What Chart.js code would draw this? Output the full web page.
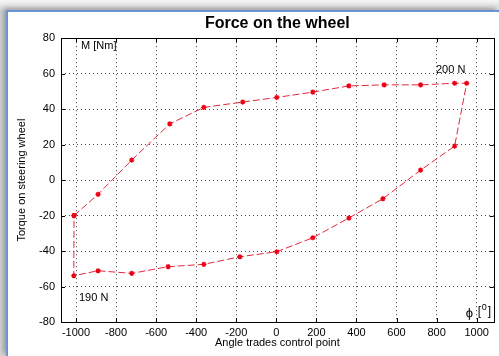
<!DOCTYPE html>
<html>
<head>
<meta charset="utf-8">
<script src="https://cdn.jsdelivr.net/npm/chart.js@4/dist/chart.umd.min.js"></script>
<style>
  html, body { margin: 0; padding: 0; background: #ffffff; }
  body { position: relative; width: 499px; height: 356px; overflow: hidden;
         background: linear-gradient(to bottom, #f6f6f6 0px, #d6d6d6 11px, #d6d6d6 100%); }
  #frame { position: absolute; left: 6px; top: 10px; width: 493px; height: 346px;
           border-left: 2px solid #6d93d2; border-top: 2px solid #6d93d2;
           background: #ffffff; box-sizing: border-box;
           box-shadow: -3px -2px 5px rgba(0,0,0,0.28); }
  #chart { position: absolute; left: 0; top: 0; }
</style>
</head>
<body>
<div id="frame"></div>
<canvas id="chart" width="499" height="356"></canvas>
<script>
// ── Datos ──
// rama de carga: de -1000 hacia +950
const anguloIda  = [-1010, -890, -722, -532, -362, -168, 2, 182, 362, 538, 720, 890, 950];
const parIda     = [-20, -8, 11.3, 31.7, 41, 44, 46.6, 49.6, 53.1, 53.7, 53.7, 54.6, 54.6];
// rama de vuelta: de +890 hacia -1000
const anguloVuelta = [890, 720, 532, 362, 182, 2, -182, -362, -540, -722, -890, -1011];
const parVuelta    = [19.2, 5.6, -10.5, -21.4, -32.5, -40.4, -43.2, -47.5, -48.8, -52.6, -51.1, -53.9];

const xTicks = [-1000, -800, -600, -400, -200, 0, 200, 400, 600, 800, 1000];
const yTicks = [-80, -60, -40, -20, 0, 20, 40, 60, 80];

const FUENTE = '"Liberation Sans", Arial, Helvetica, sans-serif';

// lazo cerrado: ida + vuelta + vuelta al primer punto
const puntos = [];
anguloIda.forEach((a, i) => puntos.push({ x: a, y: parIda[i] }));
anguloVuelta.forEach((a, i) => puntos.push({ x: a, y: parVuelta[i] }));
puntos.push({ x: anguloIda[0], y: parIda[0] });

// ── Caja, marcas interiores y textos (estilo MATLAB) ──
const cajaMatlab = {
  id: 'cajaMatlab',
  afterDraw(chart) {
    const { ctx, chartArea: a, scales } = chart;
    ctx.save();
    ctx.strokeStyle = '#000';
    ctx.lineWidth = 1;
    ctx.strokeRect(Math.round(a.left) + 0.5, Math.round(a.top) + 0.5,
                   Math.round(a.right - a.left), Math.round(a.bottom - a.top));
    const L = 4;
    ctx.beginPath();
    xTicks.forEach(v => {
      const px = Math.round(scales.x.getPixelForValue(v)) + 0.5;
      ctx.moveTo(px, a.bottom); ctx.lineTo(px, a.bottom - L);
      ctx.moveTo(px, a.top);    ctx.lineTo(px, a.top + L);
    });
    yTicks.forEach(v => {
      const py = Math.round(scales.y.getPixelForValue(v)) + 0.5;
      ctx.moveTo(a.left, py);  ctx.lineTo(a.left + L, py);
      ctx.moveTo(a.right, py); ctx.lineTo(a.right - L, py);
    });
    ctx.stroke();

    // anotaciones
    ctx.fillStyle = '#000';
    ctx.font = '11px ' + FUENTE;
    ctx.textBaseline = 'middle';
    ctx.textAlign = 'left';
    ctx.fillText('M [Nm]', a.left + 20, a.top + 8);
    ctx.fillText('200 N', a.left + 375, a.top + 32);
    ctx.fillText('190 N', a.left + 18, a.bottom - 24);
    // φ [º]
    ctx.font = '13px ' + FUENTE;
    ctx.fillText('\u03D5', a.right - 28, a.bottom - 9);
    ctx.font = '12px ' + FUENTE;
    ctx.fillText('[', a.right - 16, a.bottom - 10);
    ctx.font = '9px ' + FUENTE;
    ctx.fillText('0', a.right - 12, a.bottom - 14);
    ctx.font = '12px ' + FUENTE;
    ctx.fillText(']', a.right - 6, a.bottom - 10);
    ctx.restore();
  }
};

const rejilla = {
  color: 'rgba(40,40,40,0.85)',
  lineWidth: 1,
  drawTicks: false,
};
const bordePunteado = { display: false, dash: [1, 3] };

new Chart(document.getElementById('chart'), {
  type: 'scatter',
  data: {
    datasets: [{
      data: puntos,
      showLine: true,
      tension: 0,
      borderColor: 'rgb(225,40,60)',
      borderWidth: 1,
      borderDash: [7, 3],
      pointStyle: 'star',
      pointRadius: 2.6,
      pointBorderWidth: 1.3,
      pointBorderColor: 'rgb(235,0,20)',
      pointBackgroundColor: 'rgb(235,0,20)',
    }],
  },
  options: {
    responsive: false,
    animation: false,
    layout: { padding: { left: 8, top: 12, right: 5, bottom: 0 } },
    plugins: {
      legend: { display: false },
      tooltip: { enabled: false },
      title: {
        display: true,
        text: 'Force on the wheel',
        color: '#000',
        fullSize: false,
        font: { family: FUENTE, size: 16, weight: 'bold' },
        padding: { top: 2, bottom: 5 },
      },
    },
    scales: {
      x: {
        type: 'linear',
        min: -1075,
        max: 1085,
        afterBuildTicks: s => { s.ticks = xTicks.map(v => ({ value: v })); },
        afterFit: s => { s.height = 34; s.paddingLeft = 0; s.paddingRight = 0; },
        grid: rejilla,
        border: bordePunteado,
        ticks: { color: '#000', padding: 4, maxRotation: 0, autoSkip: false,
                 callback: v => String(v),
                 font: { family: FUENTE, size: 11 } },
        title: { display: true, text: 'Angle trades control point', color: '#000',
                 font: { family: FUENTE, size: 11 }, padding: { top: 0, bottom: 6 } },
      },
      y: {
        type: 'linear',
        min: -80,
        max: 80,
        afterBuildTicks: s => { s.ticks = yTicks.map(v => ({ value: v })); },
        afterFit: s => { s.width = 53; s.paddingTop = 0; s.paddingBottom = 0; },
        grid: rejilla,
        border: bordePunteado,
        ticks: { color: '#000', padding: 6, autoSkip: false,
                 callback: v => String(v),
                 font: { family: FUENTE, size: 11 } },
        title: { display: true, text: 'Torque on steering wheel', color: '#000',
                 font: { family: FUENTE, size: 11 }, padding: { top: 7, bottom: 0 } },
      },
    },
  },
  plugins: [cajaMatlab],
});
</script>
</body>
</html>
